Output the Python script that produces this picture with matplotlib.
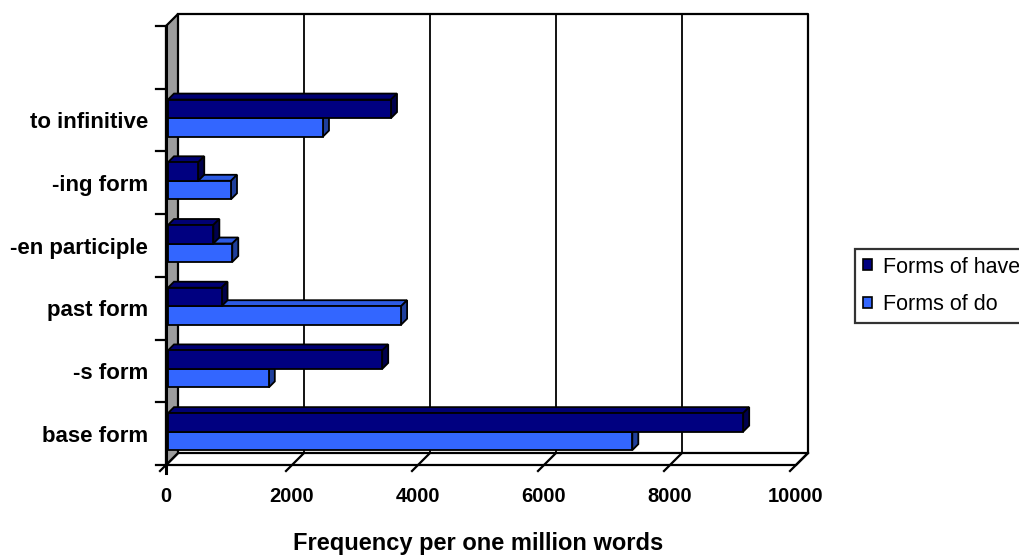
import matplotlib.pyplot as plt
from matplotlib.patches import Polygon, Rectangle, Patch

categories = ["base form", "-s form", "past form", "-en participle", "-ing form", "to infinitive"]
have_vals = [9130, 3400, 850, 720, 480, 3540]
do_vals = [7370, 1600, 3700, 1020, 1000, 2460]
series_names = ["Forms of have", "Forms of do"]
xticks = [0, 2000, 4000, 6000, 8000, 10000]

plt.rcParams["font.family"] = ["Liberation Sans", "DejaVu Sans"]

W, H = 1020, 556
fig = plt.figure(figsize=(W / 100, H / 100), dpi=100)
# front plane of the 3d box, in pixels
left, right, bottom, top = 166, 796, 465, 26
ax = fig.add_axes([left / W, 1 - bottom / H, (right - left) / W, (bottom - top) / H])
ax.set_xlim(0, 10000)
ax.set_ylim(-0.5, 6.5)
for s in ax.spines.values():
    s.set_visible(False)

ux = 10000 / (right - left)      # value units per pixel
uy = 7 / (bottom - top)          # slot units per pixel


def depth(px):
    return px * ux, px * uy


DX, DY = depth(12)
y0, y1 = -0.5, 6.5

# back wall + gridlines
ax.add_patch(Rectangle((DX, y0 + DY), 10000, 7, facecolor="white", edgecolor="none", zorder=0))
ax.plot([DX, 10000 + DX, 10000 + DX], [y1 + DY, y1 + DY, y0 + DY], color="black", lw=1.6, zorder=1,
        clip_on=False)
for v in xticks[1:-1]:
    ax.plot([v + DX, v + DX], [y0 + DY, y1 + DY], color="black", lw=1.3, zorder=1, clip_on=False)

# floor
ax.add_patch(Polygon([(0, y0), (10000, y0), (10000 + DX, y0 + DY), (DX, y0 + DY)],
                     facecolor="white", edgecolor="black", lw=1.6, zorder=1, clip_on=False))
tx, ty = depth(6)
for v in xticks:
    ax.plot([v + DX, v - tx], [y0 + DY, y0 - ty], color="black", lw=1.6, zorder=1, clip_on=False)

# grey side wall
ax.add_patch(Polygon([(0, y0), (0, y1), (DX, y1 + DY), (DX, y0 + DY)],
                     facecolor="#9c9c9c", edgecolor="black", lw=1.6, zorder=2, clip_on=False))
ax.plot([0, 0], [y0 - 8 * uy, y1], color="black", lw=2.2, zorder=2, clip_on=False)
for k in range(8):
    ax.plot([-10 * ux, 0], [y0 + k, y0 + k], color="black", lw=1.6, zorder=2, clip_on=False)

# bars with a little depth
bx, by = depth(2)
sx, sy = depth(6)
bh = 18.5 * uy
styles = {
    "have": ("#000080", "#000073", "#00004d"),
    "do": ("#3366ff", "#2d5be3", "#1f3f9c"),
}


def bar3d(v, yb, cols):
    front, topc, side = cols
    x0, x1 = bx, bx + v
    ya, yb2 = yb + by, yb + by + bh
    ax.add_patch(Polygon([(x0, yb2), (x1, yb2), (x1 + sx, yb2 + sy), (x0 + sx, yb2 + sy)],
                         facecolor=topc, edgecolor="black", lw=1.3, zorder=3, clip_on=False))
    ax.add_patch(Polygon([(x1, ya), (x1 + sx, ya + sy), (x1 + sx, yb2 + sy), (x1, yb2)],
                         facecolor=side, edgecolor="black", lw=1.3, zorder=3, clip_on=False))
    ax.add_patch(Rectangle((x0, ya), v, bh, facecolor=front, edgecolor="black", lw=1.3,
                           zorder=3, clip_on=False))


for i in range(len(categories)):
    bar3d(do_vals[i], i - bh, styles["do"])
    bar3d(have_vals[i], i, styles["have"])

# tick labels
ax.set_yticks(range(len(categories)))
ax.set_yticklabels(categories, fontsize=16, fontweight="bold")
ax.set_xticks(xticks)
ax.set_xticklabels([str(v) for v in xticks], fontsize=14.5, fontweight="bold")
ax.tick_params(axis="y", length=0, pad=13)
ax.tick_params(axis="x", length=0, pad=16)
for lbl in ax.get_yticklabels():
    lbl.set_va("center_baseline")

fig.text(478 / W, 1 - 550 / H, "Frequency per one million words", ha="center", va="baseline",
         fontsize=17, fontweight="bold")

handles = [Patch(facecolor=styles["have"][0], edgecolor="black", lw=1.2),
           Patch(facecolor=styles["do"][0], edgecolor="black", lw=1.2)]
leg = ax.legend(handles, series_names, loc="upper left", bbox_to_anchor=(855 / W, 1 - 249 / H),
                bbox_transform=fig.transFigure, frameon=True, fancybox=False, fontsize=15.5,
                handlelength=0.42, handleheight=0.42, handletextpad=0.55, labelspacing=0.78,
                borderpad=0.35, borderaxespad=0)
leg.get_frame().set_edgecolor("black")
leg.get_frame().set_linewidth(1.6)

fig.savefig("out.png", dpi=100)
